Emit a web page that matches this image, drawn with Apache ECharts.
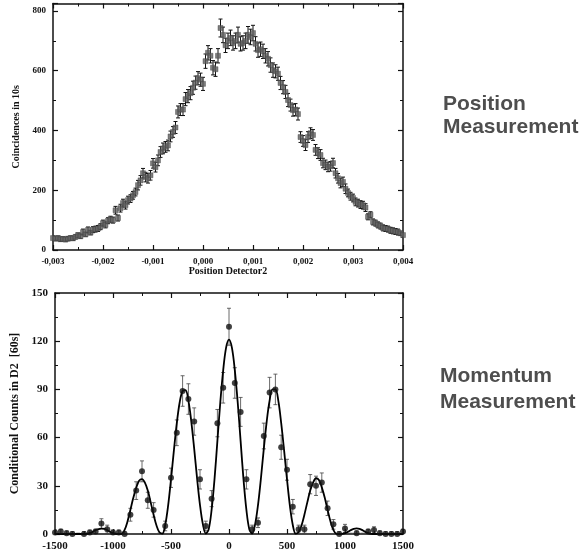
<!DOCTYPE html>
<html>
<head>
<meta charset="utf-8">
<script src="https://cdn.jsdelivr.net/npm/echarts@6/dist/echarts.min.js"></script>
<style>
  html, body { margin: 0; padding: 0; background: #fff; }
  #chart { width: 586px; height: 556px; }
</style>
</head>
<body>
<div id="chart"></div>
<script>
// position scan, detector 2 position in units of 1e-5 (axis shows metres)
var posX = [-300,-295,-290,-285,-280,-275,-270,-265,-260,-255,
  -250,-245,-240,-235,-230,-225,-220,-215,-210,-205,
  -200,-195,-190,-185,-180,-175,-170,-165,-160,-155,
  -150,-145,-140,-135,-130,-125,-120,-115,-110,-105,
  -100,-95,-90,-85,-80,-75,-70,-65,-60,-55,
  -50,-45,-40,-35,-30,-25,-20,-15,-10,-5,
  0,5,10,15,20,25,30,35,40,45,
  50,55,60,65,70,75,80,85,90,95,
  100,105,110,115,120,125,130,135,140,145,
  150,155,160,165,170,175,180,185,190,195,
  200,205,210,215,220,225,230,235,240,245,
  250,255,260,265,270,275,280,285,290,295,
  300,305,310,315,320,325,330,335,340,345,
  350,355,360,365,370,375,380,385,390,395,
  400];
var coincidences = [40,38,40,36,37,35,38,40,39,44,
  50,46,60,52,67,58,68,70,72,78,
  90,84,98,103,100,133,107,140,157,150,
  167,172,183,194,217,233,257,244,240,250,
  290,277,300,328,340,345,350,380,395,410,
  462,470,470,505,515,525,543,560,575,570,
  556,632,660,650,610,605,650,743,720,685,
  700,710,693,700,720,690,693,700,720,713,
  726,690,669,672,665,650,640,619,602,598,
  590,559,545,529,502,485,468,470,455,378,
  365,351,378,391,385,335,324,318,291,285,
  278,280,291,257,240,224,228,205,191,180,
  174,161,157,152,150,142,111,118,94,90,
  84,80,74,72,70,66,64,62,60,56,
  50];
var coincErr = [7,7,7,7,7,7,7,7,7,7,
  7,7,10,7,10,7,10,10,10,10,
  10,10,10,10,10,13,10,13,13,13,
  13,13,13,13,16,16,16,16,16,16,
  16,16,18,18,18,18,18,18,18,20,
  20,20,20,22,22,22,22,22,22,22,
  22,24,24,24,24,24,24,30,26,24,
  26,26,24,26,26,24,24,26,28,26,
  26,24,24,24,24,24,24,24,24,22,
  22,22,22,22,22,20,20,20,20,18,
  18,18,18,18,18,18,18,18,16,16,
  16,16,16,16,16,16,16,16,13,13,
  13,13,13,13,13,13,10,10,10,10,
  10,10,10,10,10,10,10,10,10,7,
  7];

// momentum scan
var momX = [-1500,-1450,-1400,-1350,-1300,-1250,-1200,-1150,-1100,-1050,
  -1000,-950,-900,-850,-800,-750,-700,-650,-600,-550,
  -500,-450,-400,-350,-300,-250,-200,-150,-100,-50,
  0,50,100,150,200,250,300,350,400,450,
  500,550,600,650,700,750,800,850,900,950,
  1000,1050,1100,1150,1200,1250,1300,1350,1400,1450,
  1500];
var counts = [1,1.5,0.5,0,-1,0,1,1.5,6.5,3,
  1,1,0,12,27,39,21,15,-1,5,
  35,63,89,84,70,34,5,22,69,91,
  129,94,76,34,3,7,61,88,90,54,
  40,17,3,3,31,30,32,16,6,0,
  3.5,-1,0.5,-1,1.5,2.5,0.5,0,0,0,
  1.5];
var countErr = [1.5,1.5,1.5,1.5,1.5,1.5,1.5,1.5,3,2.5,
  1.5,1.5,1.5,4,5.5,6.5,5,4.5,1.5,3,
  6,8,9.5,9.5,8.5,6,3,5,8.5,9.5,
  11.5,9.5,9,6,2.5,3,8,9.5,9.5,7.5,
  6.5,4.5,2.5,2.5,6,6,6,4.5,3,1.5,
  2.5,1.5,1.5,1.5,1.5,2,1.5,1.5,1.5,1.5,
  1.5];

// fitted curve
var fitX = [-1500,-1475,-1450,-1425,-1400,-1375,-1350,-1325,-1300,-1275,
  -1250,-1225,-1200,-1175,-1150,-1125,-1100,-1075,-1050,-1025,
  -1000,-975,-950,-925,-900,-875,-850,-825,-800,-775,
  -750,-725,-700,-675,-650,-625,-600,-575,-550,-525,
  -500,-475,-450,-425,-400,-375,-350,-325,-300,-275,
  -250,-225,-200,-175,-150,-125,-100,-75,-50,-25,
  0,25,50,75,100,125,150,175,200,225,
  250,275,300,325,350,375,400,425,450,475,
  500,525,550,575,600,625,650,675,700,725,
  750,775,800,825,850,875,900,925,950,975,
  1000,1025,1050,1075,1100,1125,1150,1175,1200,1225,
  1250,1275,1300,1325,1350,1375,1400,1425,1450,1475,
  1500];
var fitY = [0,0,0,0,0,0,0,0,0,0,
  0,0.1,0.5,1.3,2.4,3.0,3.3,3.2,2.4,1.3,
  0.5,0.1,0,0.1,2.5,7.8,15,22.5,28.8,33.2,
  34.2,32,27,19.7,12,5.3,1.1,0.2,5.6,17.5,
  34,52,69,82,89,89.5,83,70,53,34.5,
  18,6,0.3,3,15,34,58,82,102,116,
  121,116,102,82,58,34,15,3,0.3,6,
  18,34.5,53,70,83,90,90,83,69,52,
  34,17.5,5.6,0.2,1.1,5.3,12,19.7,27,32,
  34.7,33.6,29,22.7,15,7.8,2.5,0.1,0,0.1,
  0.5,1.3,2.4,3.2,3.5,3.2,2.4,1.3,0.5,0.1,
  0,0,0,0,0,0,0,0,0,0,
  0];

function zip3(xs, ys, es) {
  return xs.map(function (x, i) { return [x, ys[i], es[i]]; });
}

// vertical error bar with small caps
function errorBar(cap, color, width) {
  return function (params, api) {
    var x = api.value(0), y = api.value(1), e = api.value(2);
    var hi = api.coord([x, y + e]);
    var lo = api.coord([x, y - e]);
    var st = { stroke: color, lineWidth: width };
    return {
      type: 'group',
      children: [
        { type: 'line', shape: { x1: hi[0], y1: hi[1], x2: lo[0], y2: lo[1] }, style: st },
        { type: 'line', shape: { x1: hi[0] - cap, y1: hi[1], x2: hi[0] + cap, y2: hi[1] }, style: st },
        { type: 'line', shape: { x1: lo[0] - cap, y1: lo[1], x2: lo[0] + cap, y2: lo[1] }, style: st }
      ]
    };
  };
}

var serif = '"Liberation Serif", "DejaVu Serif", serif';

function frameAxis(grid, pos, min, max, interval, labelSize, formatter, name, nameGap) {
  var main = (pos === 'bottom' || pos === 'left');
  return {
    gridIndex: grid,
    type: 'value',
    position: pos,
    min: min,
    max: max,
    interval: interval,
    name: main ? name : '',
    nameLocation: 'middle',
    nameGap: nameGap,
    nameTextStyle: { fontFamily: serif, fontWeight: 'bold', fontSize: labelSize + 1, color: '#111' },
    axisLine: { show: true, onZero: false, lineStyle: { color: '#111', width: 1.5 } },
    axisTick: { show: true, inside: true, length: 5, lineStyle: { color: '#111', width: 1.2 } },
    minorTick: { show: true, splitNumber: 2, length: 3, lineStyle: { color: '#111', width: 1 } },
    splitLine: { show: false },
    axisLabel: {
      show: main,
      margin: 7,
      fontFamily: serif,
      fontWeight: 'bold',
      fontSize: labelSize,
      color: '#111',
      showMaxLabel: max % interval === 0,
      formatter: formatter
    }
  };
}

var posFmt = function (v) { return (v / 1e5).toFixed(3).replace('.', ','); };
var intFmt = function (v) { return String(v); };

var chart = echarts.init(document.getElementById('chart'));
chart.setOption({
  animation: false,
  backgroundColor: '#fff',
  grid: [
    { left: 53, top: 3.5, width: 350, height: 246.5 },
    { left: 55, top: 293, width: 348, height: 241 }
  ],
  xAxis: [
    frameAxis(0, 'bottom', -300, 400, 100, 9, posFmt, 'Position Detector2', 15),
    frameAxis(0, 'top', -300, 400, 100, 9, posFmt),
    frameAxis(1, 'bottom', -1500, 1500, 500, 11, intFmt),
    frameAxis(1, 'top', -1500, 1500, 500, 11, intFmt)
  ],
  yAxis: [
    frameAxis(0, 'left', 0, 825, 200, 9, intFmt, 'Coincidences in 10s', 27),
    frameAxis(0, 'right', 0, 825, 200, 9, intFmt),
    frameAxis(1, 'left', 0, 150, 30, 11, intFmt, 'Conditional Counts in D2  [60s]', 30),
    frameAxis(1, 'right', 0, 150, 30, 11, intFmt)
  ],
  series: [
    {
      type: 'custom',
      xAxisIndex: 0, yAxisIndex: 0,
      renderItem: errorBar(2, '#111', 1),
      encode: { x: 0, y: 1 },
      data: zip3(posX, coincidences, coincErr),
      clip: true,
      z: 2
    },
    {
      type: 'scatter',
      xAxisIndex: 0, yAxisIndex: 0,
      symbol: 'rect',
      symbolSize: 5,
      itemStyle: { color: '#5e5e5e', borderColor: '#444', borderWidth: 0.5 },
      data: posX.map(function (x, i) { return [x, coincidences[i]]; }),
      z: 3
    },
    {
      type: 'custom',
      xAxisIndex: 2, yAxisIndex: 2,
      renderItem: errorBar(2, '#444', 0.8),
      encode: { x: 0, y: 1 },
      data: zip3(momX, counts, countErr),
      clip: true,
      z: 2
    },
    {
      type: 'line',
      xAxisIndex: 2, yAxisIndex: 2,
      smooth: 0.35,
      showSymbol: false,
      lineStyle: { color: '#000', width: 1.8 },
      data: fitX.map(function (x, i) { return [x, fitY[i]]; }),
      clip: true,
      z: 3
    },
    {
      type: 'scatter',
      xAxisIndex: 2, yAxisIndex: 2,
      symbol: 'circle',
      symbolSize: 6,
      itemStyle: { color: '#111' },
      data: momX.map(function (x, i) { return [x, counts[i]]; }),
      z: 4
    }
  ],
  graphic: [
    { type: 'text', left: 443, top: 94, style: { text: 'Position', font: 'bold 21px "Liberation Sans", Arial, sans-serif', fill: '#4e4e4e' } },
    { type: 'text', left: 443, top: 117, style: { text: 'Measurement', font: 'bold 21px "Liberation Sans", Arial, sans-serif', fill: '#4e4e4e' } },
    { type: 'text', left: 440, top: 366, style: { text: 'Momentum', font: 'bold 21px "Liberation Sans", Arial, sans-serif', fill: '#4e4e4e' } },
    { type: 'text', left: 440, top: 392, style: { text: 'Measurement', font: 'bold 21px "Liberation Sans", Arial, sans-serif', fill: '#4e4e4e' } }
  ]
});
</script>
</body>
</html>
